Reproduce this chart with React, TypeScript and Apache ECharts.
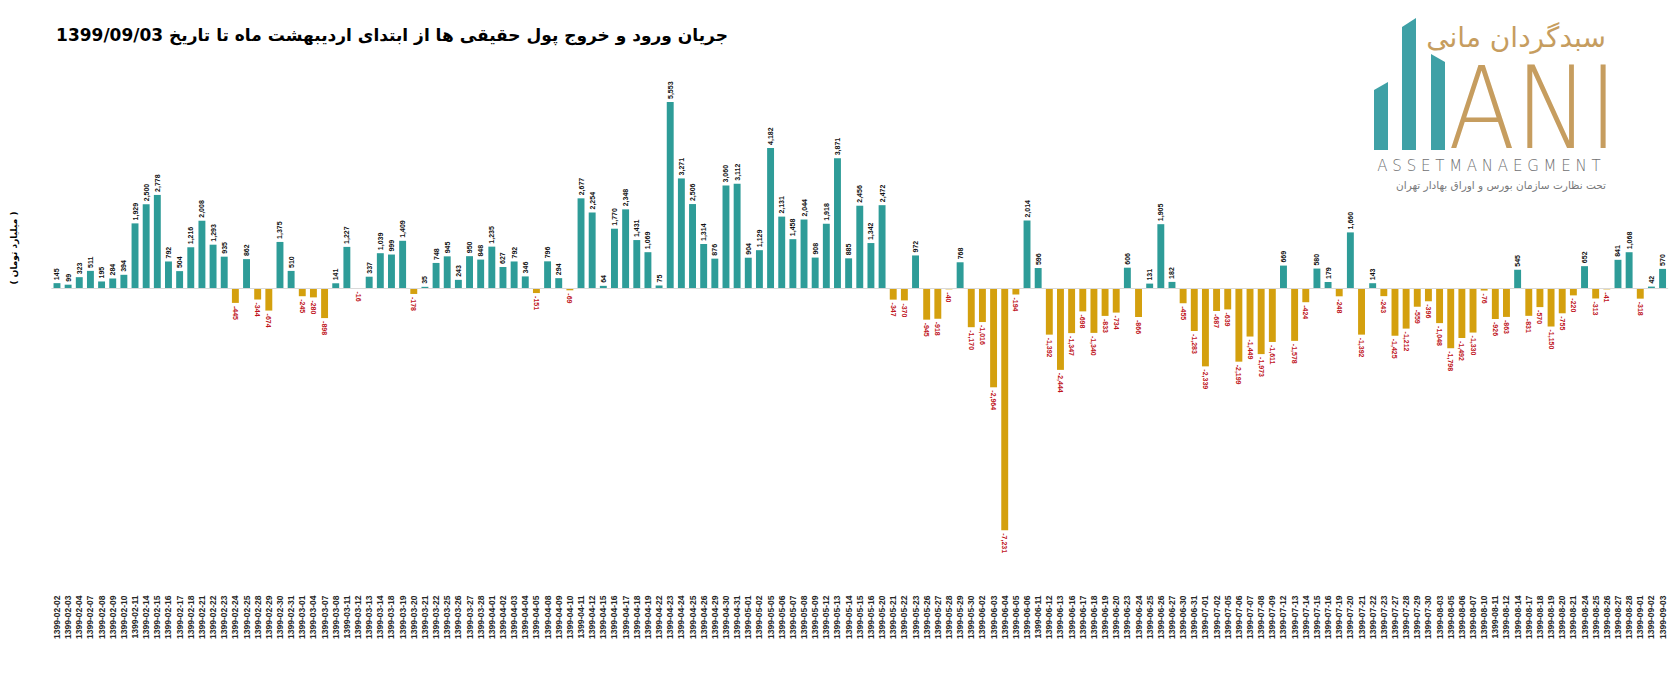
import React, { useEffect, useRef } from "react";
import * as echarts from "echarts";

const categories: string[] = [
  "1399-02-02","1399-02-03","1399-02-04","1399-02-07","1399-02-08","1399-02-09","1399-02-10","1399-02-11","1399-02-14","1399-02-15",
  "1399-02-16","1399-02-17","1399-02-18","1399-02-21","1399-02-22","1399-02-23","1399-02-24","1399-02-25","1399-02-28","1399-02-29",
  "1399-02-30","1399-02-31","1399-03-01","1399-03-04","1399-03-07","1399-03-08","1399-03-11","1399-03-12","1399-03-13","1399-03-14",
  "1399-03-18","1399-03-19","1399-03-20","1399-03-21","1399-03-22","1399-03-25","1399-03-26","1399-03-27","1399-03-28","1399-04-01",
  "1399-04-02","1399-04-03","1399-04-04","1399-04-05","1399-04-08","1399-04-09","1399-04-10","1399-04-11","1399-04-12","1399-04-15",
  "1399-04-16","1399-04-17","1399-04-18","1399-04-19","1399-04-22","1399-04-23","1399-04-24","1399-04-25","1399-04-26","1399-04-29",
  "1399-04-30","1399-04-31","1399-05-01","1399-05-02","1399-05-05","1399-05-06","1399-05-07","1399-05-08","1399-05-09","1399-05-12",
  "1399-05-13","1399-05-14","1399-05-15","1399-05-16","1399-05-20","1399-05-21","1399-05-22","1399-05-23","1399-05-26","1399-05-27",
  "1399-05-28","1399-05-29","1399-05-30","1399-06-02","1399-06-03","1399-06-04","1399-06-05","1399-06-06","1399-06-11","1399-06-12",
  "1399-06-13","1399-06-16","1399-06-17","1399-06-18","1399-06-19","1399-06-20","1399-06-23","1399-06-24","1399-06-25","1399-06-26",
  "1399-06-27","1399-06-30","1399-06-31","1399-07-01","1399-07-02","1399-07-05","1399-07-06","1399-07-07","1399-07-08","1399-07-09",
  "1399-07-12","1399-07-13","1399-07-14","1399-07-15","1399-07-16","1399-07-19","1399-07-20","1399-07-21","1399-07-22","1399-07-23",
  "1399-07-27","1399-07-28","1399-07-29","1399-07-30","1399-08-03","1399-08-05","1399-08-06","1399-08-07","1399-08-10","1399-08-11",
  "1399-08-12","1399-08-14","1399-08-17","1399-08-18","1399-08-19","1399-08-20","1399-08-21","1399-08-24","1399-08-25","1399-08-26",
  "1399-08-27","1399-08-28","1399-09-01","1399-09-02","1399-09-03",
];

const netFlow: number[] = [
  145, 99, 323, 511, 195, 284, 394, 1929, 2500, 2778,
  792, 504, 1216, 2008, 1293, 935, -445, 862, -344, -674,
  1375, 510, -245, -280, -898, 141, 1227, -16, 337, 1039,
  999, 1409, -178, 35, 748, 945, 243, 950, 848, 1235,
  627, 792, 346, -151, 796, 294, -69, 2677, 2254, 64,
  1770, 2348, 1431, 1069, 75, 5553, 3271, 2506, 1314, 876,
  3060, 3112, 904, 1129, 4182, 2131, 1458, 2044, 908, 1918,
  3871, 885, 2456, 1342, 2472, -347, -370, 972, -945, -918,
  -40, 768, -1170, -1016, -2964, -7231, -194, 2014, 596, -1392,
  -2444, -1347, -698, -1340, -833, -734, 606, -866, 131, 1905,
  182, -455, -1283, -2339, -687, -639, -2199, -1449, -1973, -1611,
  669, -1578, -424, 580, 179, -248, 1660, -1392, 143, -243,
  -1425, -1212, -559, -396, -1048, -1798, -1492, -1330, -76, -926,
  -863, 545, -831, -570, -1150, -755, -220, 652, -313, -41,
  841, 1068, -318, 42, 570,
];

const TITLE = "جریان ورود و خروج پول حقیقی ها از ابتدای اردیبهشت ماه تا تاریخ 1399/09/03";
const Y_NAME = "( میلیارد تومان )";
const LOGO_FA = "سبدگردان مانی";
const LOGO_BIG = "ANI";
const LOGO_EN = "A S S E T M A N A E G M E N T";
const LOGO_SUB = "تحت نظارت سازمان بورس و اوراق بهادار تهران";

const POS = "#2e9c98";
const NEG = "#d4a00e";
const NEG_LABEL = "#c0141c";
const GOLD = "#c69d5f";
const LOGO_TEAL = "#3fa1a6";

const fmt = (v: number) => v.toLocaleString("en-US");

export default function App() {
  const ref = useRef<HTMLDivElement>(null);
  useEffect(() => {
    if (!ref.current) return;
    const chart = echarts.init(ref.current, undefined, { renderer: "svg" });

    const posLabel = {
      show: true, position: "top", rotate: 90, align: "left", verticalAlign: "middle",
      distance: 3, color: "#111", fontSize: 7, fontWeight: "bold",
      formatter: (p: any) => fmt(p.value),
    };
    const negLabel = {
      show: true, position: "bottom", rotate: -90, align: "left", verticalAlign: "middle",
      distance: 3, color: NEG_LABEL, fontSize: 7, fontWeight: "bold",
      formatter: (p: any) => fmt(p.value),
    };

    const data = netFlow.map((v) => ({
      value: v,
      itemStyle: { color: v >= 0 ? POS : NEG },
      label: v >= 0 ? posLabel : negLabel,
    }));

    const option: any = {
      animation: false,
      textStyle: { fontFamily: "Liberation Sans" },
      grid: { left: 51.4, right: 7.85, top: 87, height: 502.5, containLabel: false },
      xAxis: {
        type: "category",
        data: categories,
        axisLine: { show: false },
        axisTick: { show: false },
        axisLabel: {
          interval: 0, rotate: 90, margin: 6, fontSize: 8.5, fontWeight: "bold",
          color: "#262626", fontFamily: "Liberation Sans",
        },
      },
      yAxis: {
        type: "value", min: -9000, max: 6000, show: false,
        splitLine: { show: false },
      },
      series: [
        {
          type: "bar",
          data,
          barWidth: "62%",
          markLine: {
            silent: true, symbol: "none", label: { show: false },
            lineStyle: { color: "#d9d9d9", width: 1, type: "solid" },
            data: [{ yAxis: 0 }],
          },
        },
      ],
      graphic: [
        {
          type: "text",
          style: {
            text: TITLE, x: 392, y: 35, fill: "#000",
            fontSize: 17, fontWeight: "bold", fontFamily: "DejaVu Sans",
            textAlign: "center", textVerticalAlign: "middle",
          },
        },
        {
          type: "text",
          x: 14, y: 248, rotation: Math.PI / 2,
          style: {
            text: Y_NAME, x: 0, y: 0, fill: "#000",
            fontSize: 9, fontWeight: "bold", fontFamily: "DejaVu Sans",
            textAlign: "center", textVerticalAlign: "middle",
          },
        },
        // logo bars
        { type: "polygon", shape: { points: [[1374, 90], [1388, 82], [1388, 150], [1374, 150]] }, style: { fill: LOGO_TEAL } },
        { type: "polygon", shape: { points: [[1402, 27], [1416, 18], [1416, 150], [1402, 150]] }, style: { fill: LOGO_TEAL } },
        { type: "polygon", shape: { points: [[1431, 54], [1445, 62], [1445, 150], [1431, 150]] }, style: { fill: LOGO_TEAL } },
        {
          type: "text",
          x: 1533, y: 108, scaleX: 0.86,
          style: {
            text: LOGO_BIG, x: 0, y: 0, fill: GOLD, fontSize: 114, fontWeight: 200,
            fontFamily: "DejaVu Sans", textAlign: "center", textVerticalAlign: "middle",
          },
        },
        {
          type: "text",
          style: { text: LOGO_FA, x: 1606, y: 37, fill: GOLD, fontSize: 28, fontFamily: "DejaVu Sans", textAlign: "right", textVerticalAlign: "middle" },
        },
        {
          type: "text",
          style: {
            text: LOGO_EN, x: 1489, y: 166, fill: "#6f7072",
            fontSize: 15, fontFamily: "DejaVu Sans", fontWeight: 200,
            textAlign: "center", textVerticalAlign: "middle",
          },
        },
        {
          type: "text",
          style: { text: LOGO_SUB, x: 1606, y: 185, fill: "#77787a", fontSize: 10.5, fontFamily: "DejaVu Sans", textAlign: "right", textVerticalAlign: "middle" },
        },
      ],
    };

    chart.setOption(option);
    return () => chart.dispose();
  }, []);

  return (
    <div
      ref={ref}
      style={{ position: "fixed", left: 0, top: 0, width: 1676, height: 684, background: "#fff" }}
    />
  );
}
